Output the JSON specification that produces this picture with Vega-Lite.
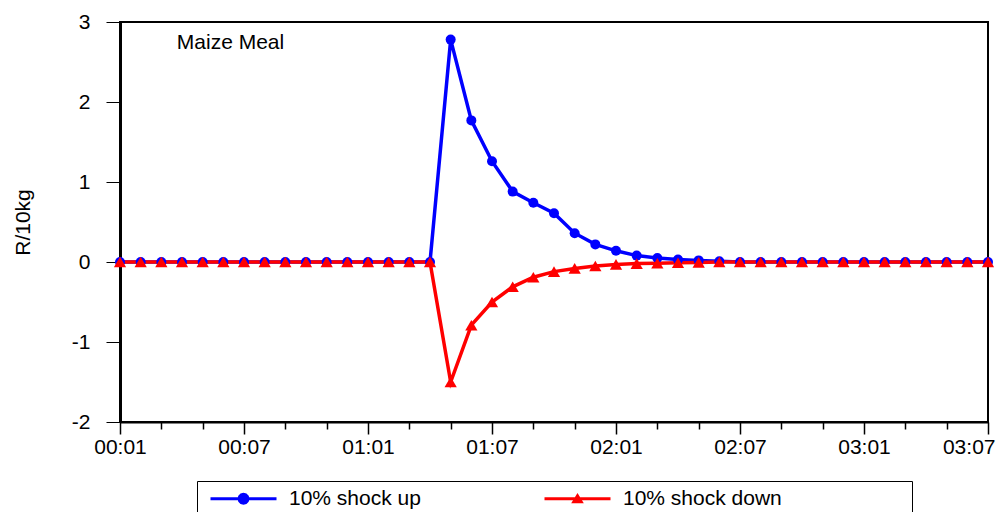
{
  "$schema": "https://vega.github.io/schema/vega-lite/v6.json",
  "autosize": "none",
  "width": 868,
  "height": 400,
  "padding": {"left": 120, "top": 22, "right": 8, "bottom": 90},
  "background": "white",
  "config": {
    "font": "Liberation Sans",
    "view": {"stroke": "black", "strokeWidth": 2},
    "axis": {
      "grid": false,
      "domainColor": "black",
      "tickColor": "black",
      "labelColor": "black",
      "labelFontSize": 21,
      "titleFontSize": 21,
      "titleFontWeight": "normal",
      "titleColor": "black",
      "labelFlush": false,
      "labelOverlap": false
    },
    "legend": {
      "orient": "none",
      "legendX": 77,
      "legendY": 459,
      "direction": "horizontal",
      "padding": 7,
      "strokeColor": "black",
      "fillColor": "white",
      "labelFontSize": 21,
      "labelColor": "black",
      "symbolSize": 144,
      "symbolOffset": 29,
      "labelOffset": 35,
      "columnPadding": 117,
      "symbolStrokeWidth": 0,
      "symbolOpacity": 1,
      "titleOrient": "right",
      "titlePadding": 123,
      "titleFontSize": 21
    }
  },
  "data": {
    "values": [
      {"t": 0, "s": "10% shock up", "v": 0},
      {"t": 1, "s": "10% shock up", "v": 0},
      {"t": 2, "s": "10% shock up", "v": 0},
      {"t": 3, "s": "10% shock up", "v": 0},
      {"t": 4, "s": "10% shock up", "v": 0},
      {"t": 5, "s": "10% shock up", "v": 0},
      {"t": 6, "s": "10% shock up", "v": 0},
      {"t": 7, "s": "10% shock up", "v": 0},
      {"t": 8, "s": "10% shock up", "v": 0},
      {"t": 9, "s": "10% shock up", "v": 0},
      {"t": 10, "s": "10% shock up", "v": 0},
      {"t": 11, "s": "10% shock up", "v": 0},
      {"t": 12, "s": "10% shock up", "v": 0},
      {"t": 13, "s": "10% shock up", "v": 0},
      {"t": 14, "s": "10% shock up", "v": 0},
      {"t": 15, "s": "10% shock up", "v": 0},
      {"t": 16, "s": "10% shock up", "v": 2.78},
      {"t": 17, "s": "10% shock up", "v": 1.77},
      {"t": 18, "s": "10% shock up", "v": 1.26},
      {"t": 19, "s": "10% shock up", "v": 0.88},
      {"t": 20, "s": "10% shock up", "v": 0.74},
      {"t": 21, "s": "10% shock up", "v": 0.61},
      {"t": 22, "s": "10% shock up", "v": 0.36},
      {"t": 23, "s": "10% shock up", "v": 0.22},
      {"t": 24, "s": "10% shock up", "v": 0.14},
      {"t": 25, "s": "10% shock up", "v": 0.08},
      {"t": 26, "s": "10% shock up", "v": 0.05},
      {"t": 27, "s": "10% shock up", "v": 0.03},
      {"t": 28, "s": "10% shock up", "v": 0.02},
      {"t": 29, "s": "10% shock up", "v": 0.01},
      {"t": 30, "s": "10% shock up", "v": 0},
      {"t": 31, "s": "10% shock up", "v": 0},
      {"t": 32, "s": "10% shock up", "v": 0},
      {"t": 33, "s": "10% shock up", "v": 0},
      {"t": 34, "s": "10% shock up", "v": 0},
      {"t": 35, "s": "10% shock up", "v": 0},
      {"t": 36, "s": "10% shock up", "v": 0},
      {"t": 37, "s": "10% shock up", "v": 0},
      {"t": 38, "s": "10% shock up", "v": 0},
      {"t": 39, "s": "10% shock up", "v": 0},
      {"t": 40, "s": "10% shock up", "v": 0},
      {"t": 41, "s": "10% shock up", "v": 0},
      {"t": 42, "s": "10% shock up", "v": 0},
      {"t": 0, "s": "10% shock down", "v": 0},
      {"t": 1, "s": "10% shock down", "v": 0},
      {"t": 2, "s": "10% shock down", "v": 0},
      {"t": 3, "s": "10% shock down", "v": 0},
      {"t": 4, "s": "10% shock down", "v": 0},
      {"t": 5, "s": "10% shock down", "v": 0},
      {"t": 6, "s": "10% shock down", "v": 0},
      {"t": 7, "s": "10% shock down", "v": 0},
      {"t": 8, "s": "10% shock down", "v": 0},
      {"t": 9, "s": "10% shock down", "v": 0},
      {"t": 10, "s": "10% shock down", "v": 0},
      {"t": 11, "s": "10% shock down", "v": 0},
      {"t": 12, "s": "10% shock down", "v": 0},
      {"t": 13, "s": "10% shock down", "v": 0},
      {"t": 14, "s": "10% shock down", "v": 0},
      {"t": 15, "s": "10% shock down", "v": 0},
      {"t": 16, "s": "10% shock down", "v": -1.5},
      {"t": 17, "s": "10% shock down", "v": -0.79},
      {"t": 18, "s": "10% shock down", "v": -0.5},
      {"t": 19, "s": "10% shock down", "v": -0.31},
      {"t": 20, "s": "10% shock down", "v": -0.19},
      {"t": 21, "s": "10% shock down", "v": -0.12},
      {"t": 22, "s": "10% shock down", "v": -0.08},
      {"t": 23, "s": "10% shock down", "v": -0.05},
      {"t": 24, "s": "10% shock down", "v": -0.03},
      {"t": 25, "s": "10% shock down", "v": -0.02},
      {"t": 26, "s": "10% shock down", "v": -0.015},
      {"t": 27, "s": "10% shock down", "v": -0.01},
      {"t": 28, "s": "10% shock down", "v": -0.005},
      {"t": 29, "s": "10% shock down", "v": 0},
      {"t": 30, "s": "10% shock down", "v": 0},
      {"t": 31, "s": "10% shock down", "v": 0},
      {"t": 32, "s": "10% shock down", "v": 0},
      {"t": 33, "s": "10% shock down", "v": 0},
      {"t": 34, "s": "10% shock down", "v": 0},
      {"t": 35, "s": "10% shock down", "v": 0},
      {"t": 36, "s": "10% shock down", "v": 0},
      {"t": 37, "s": "10% shock down", "v": 0},
      {"t": 38, "s": "10% shock down", "v": 0},
      {"t": 39, "s": "10% shock down", "v": 0},
      {"t": 40, "s": "10% shock down", "v": 0},
      {"t": 41, "s": "10% shock down", "v": 0},
      {"t": 42, "s": "10% shock down", "v": 0}
    ]
  },
  "layer": [
    {
      "mark": {"type": "line", "strokeWidth": 3.5, "clip": false},
      "encoding": {
        "x": {
          "field": "t", "type": "quantitative",
          "scale": {"domain": [0, 42], "nice": false, "zero": false},
          "axis": {
            "title": null,
            "values": [0,1,2,3,4,5,6,7,8,9,10,11,12,13,14,15,16,17,18,19,20,21,22,23,24,25,26,27,28,29,30,31,32,33,34,35,36,37,38,39,40,41,42],
            "labelExpr": "datum.value % 6 == 0 ? (format(floor(datum.value / 12), '02d') + ':' + format(datum.value % 12 + 1, '02d')) : ''",
            "tickSize": {"condition": {"test": "datum.value % 6 == 0", "value": 12}, "value": 7},
            "labelAlign": {"condition": {"test": "datum.value == 42", "value": "right"}, "value": "center"},
            "labelOffset": {"condition": {"test": "datum.value == 42", "value": 7}, "value": 0},
            "tickWidth": 1.5,
            "domainWidth": 2,
            "labelPadding": 2
          }
        },
        "y": {
          "field": "v", "type": "quantitative",
          "scale": {"domain": [-2, 3], "nice": false},
          "axis": {
            "title": "R/10kg",
            "values": [-2, -1, 0, 1, 2, 3],
            "labelExpr": "'' + datum.value",
            "tickSize": 14,
            "tickWidth": 1,
            "labelPadding": 16,
            "domainWidth": 3,
            "titleX": -87,
            "titleY": 200,
            "titleAngle": 270,
            "titleAlign": "center",
            "titleBaseline": "bottom"
          }
        },
        "detail": {"field": "s", "type": "nominal"},
        "color": {"condition": {"test": "datum.s == '10% shock up'", "value": "#0000ff"}, "value": "#ff0000"}
      }
    },
    {
      "mark": {"type": "point", "filled": true, "opacity": 1, "clip": false},
      "encoding": {
        "x": {"field": "t", "type": "quantitative"},
        "y": {"field": "v", "type": "quantitative"},
        "color": {"condition": {"test": "datum.s == '10% shock up'", "value": "#0000ff"}, "value": "#ff0000"},
        "shape": {"condition": {"test": "datum.s == '10% shock up'", "value": "circle"}, "value": "triangle-up"},
        "size": {"condition": {"test": "datum.s == '10% shock up'", "value": 100}, "value": 150}
      }
    },
    {
      "mark": {"type": "point", "filled": true, "opacity": 0, "size": 144, "clip": false},
      "encoding": {
        "x": {"field": "t", "type": "quantitative"},
        "y": {"field": "v", "type": "quantitative"},
        "color": {
          "field": "s", "type": "nominal",
          "scale": {"domain": ["10% shock up", "10% shock down"], "range": ["#0000ff", "#ff0000"]},
          "legend": {"title": "\u00a0"}
        },
        "shape": {
          "field": "s", "type": "nominal",
          "scale": {
            "domain": ["10% shock up", "10% shock down"],
            "range": [
              "M-5.5,-0.25H5.5V0.25H-5.5Z M1,0L0.866,0.5L0.5,0.866L0,1L-0.5,0.866L-0.866,0.5L-1,0L-0.866,-0.5L-0.5,-0.866L0,-1L0.5,-0.866L0.866,-0.5Z",
              "M-5.5,-0.25H5.5V0.25H-5.5Z M0,-0.95L1.05,0.75L-1.05,0.75Z"
            ]
          },
          "legend": {"title": "\u00a0"}
        }
      }
    },
    {
      "data": {"values": [{"px": 2.75, "py": 2.66, "label": "Maize Meal"}]},
      "mark": {"type": "text", "align": "left", "baseline": "alphabetic", "fontSize": 21, "color": "black"},
      "encoding": {
        "x": {"field": "px", "type": "quantitative"},
        "y": {"field": "py", "type": "quantitative"},
        "text": {"field": "label"}
      }
    }
  ]
}
